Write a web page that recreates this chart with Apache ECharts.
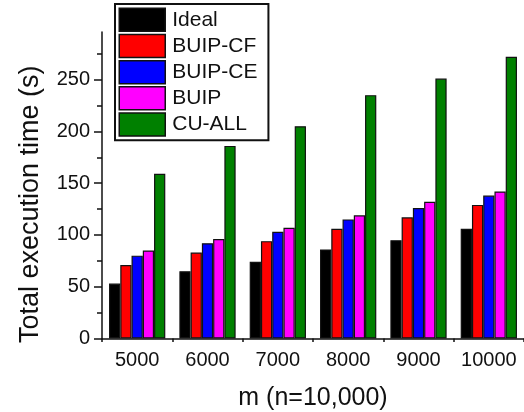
<!DOCTYPE html>
<html>
<head>
<meta charset="utf-8">
<style>html,body{margin:0;padding:0;background:#fff;}#c{width:524px;height:412px;}</style>
<script src="https://cdn.jsdelivr.net/npm/echarts@6/dist/echarts.min.js"></script>
</head>
<body>
<div id="c"></div>
<script>
const categories = ['5000', '6000', '7000', '8000', '9000', '10000'];
const ideal  = [53, 65, 74, 86, 95, 106];
const buipCF = [71, 83, 94, 106, 117, 129];
const buipCE = [80, 92, 103, 115, 126, 138];
const buip   = [85, 96, 107, 119, 132, 142];
const cuAll  = [159, 186, 205, 235, 251, 272];
const yTicks = [0, 50, 100, 150, 200, 250];

const FONT = 'Liberation Sans, Arial, Helvetica, sans-serif';
const chart = echarts.init(document.getElementById('c'));

function bar(name, data, color) {
  return {
    name: name, type: 'bar', data: data,
    barGap: '0%', barCategoryGap: '20%',
    itemStyle: { color: color, borderColor: '#111', borderWidth: 1.2 },
    emphasis: { disabled: true }
  };
}

chart.setOption({
  animation: false,
  backgroundColor: '#fff',
  grid: { left: 102, right: 0, top: 32, bottom: 73.5, containLabel: false, outerBoundsMode: 'none' },
  legend: {
    orient: 'vertical', left: 115, top: 4,
    icon: 'rect', itemWidth: 46, itemHeight: 23, itemGap: 1.7,
    borderColor: '#111', borderWidth: 2,
    padding: [3.5, 11, 3.5, 3.5],
    backgroundColor: '#fff',
    itemStyle: { borderColor: '#111', borderWidth: 1.5 },
    textStyle: { fontFamily: FONT, fontSize: 21, lineHeight: 22, color: '#111', padding: [0, 0, 0, 2] },
    selectedMode: false
  },
  xAxis: [{
    type: 'category', data: categories,
    name: 'm (n=10,000)', nameLocation: 'middle', nameGap: 47,
    nameTextStyle: { fontFamily: FONT, fontSize: 25, color: '#111' },
    axisLine: { lineStyle: { color: '#111', width: 1.5 } },
    axisTick: { alignWithLabel: true, length: 6, lineStyle: { color: '#111', width: 1.5 } },
    axisLabel: { interval: 0, fontFamily: FONT, fontSize: 20, color: '#111', margin: 12 }
  }, {
    type: 'category', data: categories, position: 'bottom',
    axisLine: { show: false },
    axisTick: { show: true, length: 3.5, lineStyle: { color: '#111', width: 1.5 } },
    axisLabel: { show: false }
  }],
  yAxis: {
    type: 'value', min: 0, max: 296, interval: 50,
    name: '{t|Total execution time (s)}', nameLocation: 'middle', nameGap: 58,
    nameTextStyle: {
      fontFamily: FONT, fontSize: 27, color: '#111',
      rich: { t: { fontFamily: FONT, fontSize: 27, color: '#111', padding: [0, 38, 0, 0] } }
    },
    axisLine: { show: true, lineStyle: { color: '#111', width: 1.5 } },
    axisTick: { show: true, length: 8, customValues: yTicks, lineStyle: { color: '#111', width: 1.5 } },
    minorTick: { show: true, splitNumber: 2, length: 5, lineStyle: { color: '#111', width: 1.5 } },
    axisLabel: { fontFamily: FONT, fontSize: 20, color: '#111', margin: 12, customValues: yTicks },
    splitLine: { show: false }
  },
  series: [
    bar('Ideal', ideal, '#000000'),
    bar('BUIP-CF', buipCF, '#ff0000'),
    bar('BUIP-CE', buipCE, '#0000ff'),
    bar('BUIP', buip, '#ff00ff'),
    bar('CU-ALL', cuAll, '#008000')
  ]
});
</script>
</body>
</html>
